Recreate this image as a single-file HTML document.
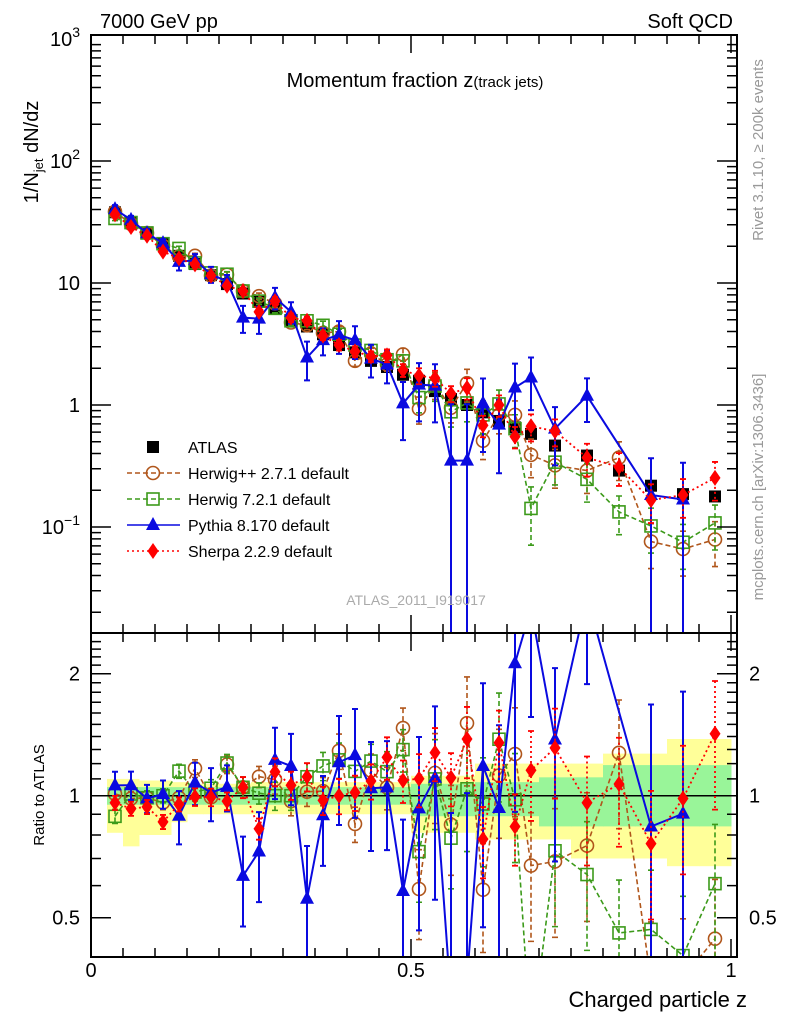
<!DOCTYPE html>
<html><head><meta charset="utf-8"><style>
html,body{margin:0;padding:0;background:#fff;width:786px;height:1024px;overflow:hidden;}
svg{display:block;font-family:"Liberation Sans",sans-serif;}
</style></head><body>
<svg id="chart" width="786" height="1024" viewBox="0 0 786 1024" xmlns="http://www.w3.org/2000/svg">
<defs>
<clipPath id="clipMain"><rect x="91" y="35" width="646" height="598"/></clipPath>
<clipPath id="clipRatio"><rect x="91" y="633" width="646" height="324"/></clipPath>
</defs>
<rect x="0" y="0" width="786" height="1024" fill="#fff"/>
<g id="ratioBands" clip-path="url(#clipRatio)"></g>
<g id="mainMarks" clip-path="url(#clipMain)"></g>
<g id="ratioMarks" clip-path="url(#clipRatio)"></g>
<g id="axes"></g>
<text x="100" y="28" font-size="20">7000 GeV pp</text>
<text x="733" y="28" font-size="20" text-anchor="end">Soft QCD</text>
<text x="415" y="87" font-size="20" text-anchor="middle">Momentum fraction z<tspan font-size="15">(track jets)</tspan></text>
<text transform="translate(38,152) rotate(-90)" font-size="20" text-anchor="middle">1/N<tspan font-size="13" dy="5">jet</tspan><tspan dy="-5"> dN/dz</tspan></text>
<text transform="translate(44,795) rotate(-90)" font-size="15" text-anchor="middle">Ratio to ATLAS</text>
<text x="747" y="1007" font-size="22" text-anchor="end">Charged particle z</text>
<text transform="translate(763,150) rotate(-90)" font-size="15" fill="#999" text-anchor="middle">Rivet 3.1.10, ≥ 200k events</text>
<text transform="translate(763,487) rotate(-90)" font-size="15" fill="#999" text-anchor="middle">mcplots.cern.ch [arXiv:1306.3436]</text>
<text x="416" y="605" font-size="14" fill="#aaa" text-anchor="middle">ATLAS_2011_I919017</text>
<g id="legend"></g>
</svg>
<script>
// ---- data ----
const binLo = [0.025,0.05,0.075,0.1,0.125,0.15,0.175,0.2,0.225,0.25,0.275,0.3,0.325,0.35,0.375,0.4,0.425,0.45,0.475,0.5,0.525,0.55,0.575,0.6,0.625,0.65,0.675,0.7,0.75,0.8,0.85,0.9,0.95];
const binHi = [0.05,0.075,0.1,0.125,0.15,0.175,0.2,0.225,0.25,0.275,0.3,0.325,0.35,0.375,0.4,0.425,0.45,0.475,0.5,0.525,0.55,0.575,0.6,0.625,0.65,0.675,0.7,0.75,0.8,0.85,0.9,0.95,1.0];
const atlas = [38,31,26,21,16.7,14.3,11.6,9.8,8.2,7.0,6.2,4.9,4.4,3.8,3.1,2.7,2.3,2.05,1.77,1.58,1.3,1.12,1.0,0.87,0.74,0.655,0.58,0.465,0.385,0.29,0.218,0.186,0.178];
const herwigpp = [38.4,30.5,25.7,20.2,16.5,16.7,11.5,11.7,8.6,7.8,6.8,4.75,4.5,3.9,4.0,2.3,2.65,2.15,2.6,0.93,1.48,0.95,1.51,0.51,0.83,0.83,0.39,0.32,0.29,0.37,0.076,0.066,0.079];
const herwig7 = [33.8,31.3,25.7,21,19.2,14.6,12.1,11.8,8.6,7.1,6.2,4.9,4.9,4.5,3.8,3.1,2.8,2.35,2.3,1.15,1.43,0.88,1.04,0.83,1.02,0.64,0.142,0.34,0.246,0.133,0.102,0.075,0.108];
const pythia = [40.3,32.9,25.6,21.2,14.9,15.4,11.8,10.3,5.2,5.1,7.6,5.8,2.45,3.4,3.75,3.4,2.4,2.15,1.03,1.47,1.44,0.35,0.35,1.03,0.69,1.39,1.68,0.64,1.19,null,0.183,0.168,null];
const sherpa = [36.5,28.8,24.4,18.1,15.9,14.2,11.5,9.5,8.6,5.8,7.1,5.2,4.9,3.7,3.1,2.75,2.5,2.55,1.93,1.74,1.66,1.24,1.38,0.68,1.0,0.55,0.67,0.61,0.37,0.31,0.166,0.183,0.253];
const errHerwigpp = [0.04,0.04,0.04,0.04,0.04,0.05,0.05,0.05,0.06,0.06,0.08,0.08,0.08,0.08,0.1,0.1,0.1,0.12,0.12,0.25,0.25,0.25,0.3,0.3,0.3,0.3,0.35,0.35,0.35,0.35,0.4,0.4,0.4];
const errHerwig7 = [0.04,0.04,0.04,0.04,0.04,0.05,0.05,0.05,0.06,0.06,0.08,0.08,0.08,0.08,0.1,0.1,0.1,0.12,0.12,0.25,0.25,0.25,0.3,0.3,0.3,0.3,0.5,0.35,0.35,0.35,0.4,0.4,0.4];
const errPythia = [0.08,0.08,0.08,0.08,0.15,0.12,0.15,0.13,0.25,0.25,0.2,0.2,0.35,0.25,0.3,0.3,0.3,0.3,0.5,0.5,0.5,1.9,1.9,0.6,0.6,0.57,0.46,0.5,0.39,null,1.0,1.0,null];
const errSherpa = [0.04,0.04,0.04,0.04,0.04,0.05,0.05,0.05,0.06,0.06,0.08,0.08,0.08,0.08,0.1,0.1,0.1,0.12,0.12,0.15,0.15,0.15,0.2,0.2,0.2,0.2,0.25,0.25,0.3,0.3,0.35,0.35,0.35];
const greenLo = [0.95,0.95,0.95,0.95,0.95,0.95,0.95,0.95,0.95,0.95,0.95,0.95,0.95,0.95,0.95,0.95,0.95,0.95,0.95,0.89,0.89,0.89,0.89,0.89,0.89,0.89,0.89,0.84,0.84,0.84,0.84,0.84,0.84];
const greenHi = [1.05,1.05,1.05,1.05,1.05,1.05,1.05,1.05,1.05,1.05,1.05,1.05,1.05,1.05,1.05,1.05,1.05,1.05,1.05,1.07,1.07,1.07,1.07,1.08,1.08,1.08,1.08,1.11,1.11,1.19,1.19,1.19,1.19];
const yellowLo = [0.81,0.75,0.8,0.8,0.86,0.9,0.9,0.9,0.9,0.9,0.9,0.9,0.9,0.9,0.9,0.9,0.9,0.9,0.9,0.81,0.81,0.81,0.81,0.78,0.78,0.78,0.78,0.78,0.7,0.7,0.7,0.67,0.67];
const yellowHi = [1.1,1.1,1.09,1.09,1.08,1.07,1.07,1.07,1.07,1.08,1.08,1.08,1.08,1.08,1.08,1.08,1.08,1.08,1.08,1.12,1.12,1.12,1.12,1.2,1.2,1.2,1.2,1.2,1.2,1.27,1.27,1.38,1.38];
const mainTickVals = [0.1,1,10,100,1000];
const mainTickLabels = ["10","1","10","10","10"];
const mainTickExps = ["−1","","","2","3"];
const ratioTickVals = [0.5,1,2];
const ratioTickLabels = ["0.5","1","2"];
const xTickVals = [0,0.5,1];
const xTickLabels = ["0","0.5","1"];
const legendLabels = ["ATLAS","Herwig++ 2.7.1 default","Herwig 7.2.1 default","Pythia 8.170 default","Sherpa 2.2.9 default"];

// ---- scales ----
const X0=91, X1=737, MT=35, MB=633, RT=633, RB=957;
function xs(z){return 91+640*z;}
function ym(v){return 405-122*Math.log10(v);}
function yr(r){return 795.7-405.3*Math.log10(r);}
const NS="http://www.w3.org/2000/svg";
function mk(tag,attrs,parent){const e=document.createElementNS(NS,tag);for(const k in attrs)e.setAttribute(k,attrs[k]);parent.appendChild(e);return e;}
const mainG=document.getElementById('mainMarks'), ratioG=document.getElementById('ratioMarks'), bandG=document.getElementById('ratioBands'), axG=document.getElementById('axes'), legG=document.getElementById('legend');
const ctr = binLo.map((l,i)=>(l+binHi[i])/2);

// ---- bands ----
for(let i=0;i<binLo.length;i++){
  const y1=mk('rect',{x:xs(binLo[i]),y:yr(yellowHi[i]),width:xs(binHi[i])-xs(binLo[i])+0.5,height:yr(yellowLo[i])-yr(yellowHi[i]),fill:'#ffff99'},bandG);
  
  
}
for(let i=0;i<binLo.length;i++){
  const g1=mk('rect',{x:xs(binLo[i]),y:yr(greenHi[i]),width:xs(binHi[i])-xs(binLo[i])+0.5,height:yr(greenLo[i])-yr(greenHi[i]),fill:'#99f599'},bandG);
  
  
}
const one=mk('line',{x1:X0,x2:X1,y1:yr(1),y2:yr(1),stroke:'#000','stroke-width':1.5},bandG);



// ---- markers ----
function marker(kind,cx,cy,color,parent){
  let e;
  if(kind==='square') e=mk('rect',{x:cx-6,y:cy-6,width:12,height:12,fill:'#000'},parent);
  else if(kind==='circle') e=mk('circle',{cx:cx,cy:cy,r:6.5,fill:'none',stroke:color,'stroke-width':1.6},parent);
  else if(kind==='osquare') e=mk('rect',{x:cx-6,y:cy-6,width:12,height:12,fill:'none',stroke:color,'stroke-width':1.6},parent);
  else if(kind==='tri') e=mk('polygon',{points:`${cx},${cy-8} ${cx-7},${cy+5} ${cx+7},${cy+5}`,fill:color},parent);
  else e=mk('polygon',{points:`${cx},${cy-8} ${cx-5.5},${cy} ${cx},${cy+8} ${cx+5.5},${cy}`,fill:color},parent);
  return e;
}
const series=[
 {name:'herwigpp',vals:herwigpp,err:errHerwigpp,color:'#b0561b',dash:'5,3',kind:'circle',w:1.6},
 {name:'herwig7',vals:herwig7,err:errHerwig7,color:'#3c9a1a',dash:'5,3',kind:'osquare',w:1.6},
 {name:'pythia',vals:pythia,err:errPythia,color:'#0a0ae0',dash:'none',kind:'tri',w:2},
 {name:'sherpa',vals:sherpa,err:errSherpa,color:'#ff0000',dash:'2,3',kind:'diamond',w:1.8}
];
function drawSeries(s,parent,yf,ratio,top,bot){
  const pts=[];
  for(let i=0;i<s.vals.length;i++){
    const v=s.vals[i]; if(v===null) continue;
    const val=ratio? v/atlas[i] : v;
    const e=val*s.err[i];
    const cx=xs(ctr[i]);
    const lo=val-e>0? Math.min(yf(val-e),bot) : bot;
    const hi=Math.max(yf(val+e),top);
    const eb=mk('line',{x1:cx,x2:cx,y1:hi,y2:lo,stroke:s.color,'stroke-width':s.w,'stroke-dasharray':s.dash},parent);
    
    
    const cap=mk('path',{d:`M${cx-3},${hi}H${cx+3}M${cx-3},${lo}H${cx+3}`,stroke:s.color,'stroke-width':s.w},parent);
    
    
    pts.push([cx,yf(val)]);
  }
  const pl=mk('polyline',{points:pts.map(p=>p.join(',')).join(' '),fill:'none',stroke:s.color,'stroke-width':s.w,'stroke-dasharray':s.dash},parent);
  
  
  for(const p of pts){
    const m=marker(s.kind,p[0],p[1],s.color,parent);
    
    
  }
}
for(let i=0;i<atlas.length;i++){
  const m=marker('square',xs(ctr[i]),ym(atlas[i]),'#000',mainG);
  
  
}
for(const s of series){drawSeries(s,mainG,ym,false,MT,MB);}
for(const s of series){drawSeries(s,ratioG,yr,true,RT,RB);}

// ---- axes ----
function frame(y0,y1,name){
  const r=mk('rect',{x:X0,y:y0,width:X1-X0,height:y1-y0,fill:'none',stroke:'#000','stroke-width':2},axG);
  
  
}
frame(MT,MB,'main-plot-frame');
frame(RT,RB,'ratio-plot-frame');
let tp='';
for(let d=-2;d<3;d++){for(let m=1;m<10;m++){const v=m*Math.pow(10,d);const y=ym(v);if(y<MT||y>MB)continue;const L=m===1?20:10;tp+=`M${X0},${y}h${L}M${X1},${y}h${-L}`;}}
for(let k=0;k<=20;k++){const z=k*0.05;const x=xs(z);if(x>X1)continue;const L=(k%10===0)?18:9;tp+=`M${x},${MB}v${-L}M${x},${MT}v${L}M${x},${RB}v${-L}M${x},${RT}v${L}`;}
for(let r=0.4;r<=2.5;r+=0.1){const y=yr(r);if(y<RT||y>RB)continue;const major=Math.abs(r-0.5)<1e-6||Math.abs(r-1)<1e-6||Math.abs(r-2)<1e-6;const L=major?20:10;tp+=`M${X0},${y}h${L}M${X1},${y}h${-L}`;}
const tk=mk('path',{d:tp,stroke:'#000','stroke-width':1.5,fill:'none'},axG);


for(let i=0;i<mainTickVals.length;i++){
  const t=mk('text',{x:80,y:ym(mainTickVals[i])+7,'font-size':20,'text-anchor':'end'},axG);
  
  
  t.textContent=mainTickLabels[i];
  if(mainTickExps[i]){const s=mk('tspan',{'font-size':14,dy:-9},t);s.textContent=mainTickExps[i];}
}
for(let i=0;i<ratioTickVals.length;i++){
  const t=mk('text',{x:80,y:yr(ratioTickVals[i])+7,'font-size':20,'text-anchor':'end'},axG);
  
  
  t.textContent=ratioTickLabels[i];
  const t2=mk('text',{x:749,y:yr(ratioTickVals[i])+7,'font-size':20},axG);
  
  
  t2.textContent=ratioTickLabels[i];
}
for(let i=0;i<xTickVals.length;i++){
  const t=mk('text',{x:xs(xTickVals[i]),y:977,'font-size':20,'text-anchor':'middle'},axG);
  
  
  t.textContent=xTickLabels[i];
}

// ---- legend ----
const legKinds=['square','circle','osquare','tri','diamond'];
const legColors=['#000','#b0561b','#3c9a1a','#0a0ae0','#ff0000'];
const legDash=['none','5,3','5,3','none','2,3'];
for(let i=0;i<legendLabels.length;i++){
  const y=447+26*i;
  if(i>0){const l=mk('line',{x1:127,x2:180,y1:y,y2:y,stroke:legColors[i],'stroke-width':1.6,'stroke-dasharray':legDash[i]},legG);
  
  }
  const m=marker(legKinds[i],153,y,legColors[i],legG);
  
  
  const t=mk('text',{x:188,y:y+6,'font-size':16},legG);
  
  
  t.textContent=legendLabels[i];
}
</script>
</body></html>
